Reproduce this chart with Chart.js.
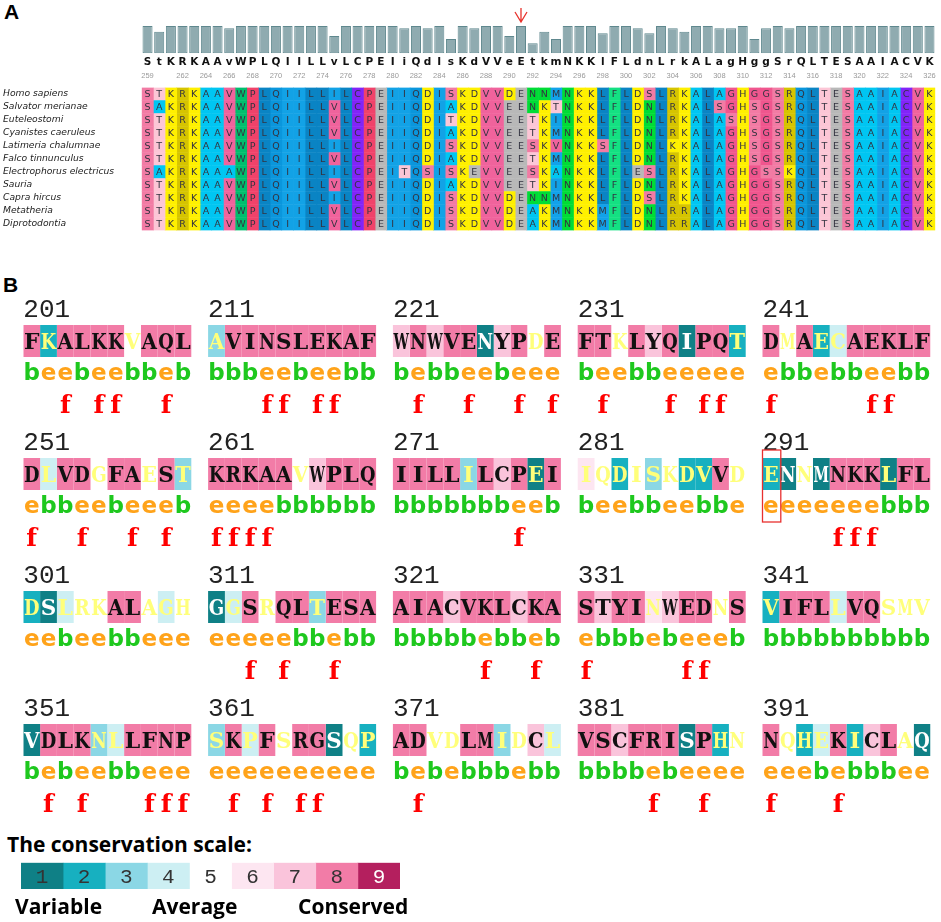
<!DOCTYPE html>
<html>
<head>
<meta charset="utf-8">
<script src="https://cdn.jsdelivr.net/npm/chart.js@4.4.1/dist/chart.umd.min.js"></script>
<style>
  html, body { margin: 0; padding: 0; background: #fff; }
  body { width: 941px; height: 922px; position: relative; overflow: hidden; }
  canvas { position: absolute; left: 0; }
  .panel { position: absolute; font-family: 'Liberation Sans', Arial, sans-serif; font-weight: bold; font-size: 21px; line-height: 21px; color: #000; }
  .scale { position: absolute; font-family: 'Open Sans', sans-serif; font-weight: bold; font-size: 21px; line-height: 21px; color: #000; white-space: nowrap; }
</style>
</head>
<body>
<div class="panel" style="left:4px;top:1px">A</div>
<canvas id="barsChart" width="941" height="83" style="top:0"></canvas>
<canvas id="alignChart" width="941" height="154" style="top:82px"></canvas>
<div class="panel" style="left:3px;top:274px">B</div>
<canvas id="consurfChart" width="941" height="545" style="top:270px"></canvas>
<div class="scale" style="left:7px;top:834px">The conservation scale:</div>
<canvas id="scaleChart" width="460" height="97" style="top:825px"></canvas>
<div class="scale" style="left:15px;top:896px">Variable</div>
<div class="scale" style="left:152px;top:896px">Average</div>
<div class="scale" style="left:298px;top:896px">Conserved</div>
<script>
// ---------- panel A data ----------
const positions = [259, 260, 261, 262, 263, 264, 265, 266, 267, 268, 269, 270, 271, 272, 273, 274, 275,
  276, 277, 278, 279, 280, 281, 282, 283, 284, 285, 286, 287, 288, 289, 290, 291, 292, 293, 294,
  295, 296, 297, 298, 299, 300, 301, 302, 303, 304, 305, 306, 307, 308, 309, 310, 311, 312, 313,
  314, 315, 316, 317, 318, 319, 320, 321, 322, 323, 324, 325, 326];
const numberedPositions = [259, 262, 264, 266, 268, 270, 272, 274, 276, 278, 280, 282, 284, 286, 288,
  290, 292, 294, 296, 298, 300, 302, 304, 306, 308, 310, 312, 314, 316, 318, 320, 322, 324, 326];
const consensus = 'StKRKAAvWPLQIILLvLCPEIiQdIsKdVVeEtkmNKKlFLdnLrkALagHggSrQLTESAAIACVK'.split('');
const conservation = [
  1, .79, 1, 1, 1, 1, 1, .92, 1, 1,
  1, 1, 1, 1, 1, 1, .63, 1, 1, 1,
  1, 1, .92, 1, .92, 1, .52, 1, .92, 1,
  1, .63, 1, .37, .79, .52, 1, 1, 1, .73,
  1, 1, .92, .73, 1, .92, .79, 1, 1, .92,
  .92, 1, .52, .92, 1, .92, 1, 1, 1, 1,
  1, 1, 1, 1, 1, 1, 1, 1];
const markedPosition = 291;

const species = ['Homo sapiens', 'Salvator merianae', 'Euteleostomi', 'Cyanistes caeruleus',
  'Latimeria chalumnae', 'Falco tinnunculus', 'Electrophorus electricus', 'Sauria',
  'Capra hircus', 'Metatheria', 'Diprotodontia'];
const alignment = [
  'STKRKAAVWPLQIILLILCPEIIQDISKDVVDENNMNKKLFLDSLRKALAGHGGSRQLTESAAIACVK',
  'SAKRKAAVWPLQIILLVLCPEIIQDIAKDVVEENKTNKKLFLDNLRKALSGHSGSRQLTESAAIACVK',
  'STKRKAAVWPLQIILLVLCPEIIQDITKDVVEETKINKKLFLDNLRKALASHSGSRQLTESAAIACVK',
  'STKRKAAVWPLQIILLVLCPEIIQDIAKDVVEETKMNKKLFLDNLRKALAGHSGSRQLTESAAIACVK',
  'STKRKAAVWPLQIILLILCPEIIQDISKDVVEESKVNKKSFLDNLKKALAGHSGSRQLTESAAIACVK',
  'STKRKAAVWPLQIILLVLCPEIIQDIAKDVVEETKMNKKLFLDNLRKALAGHSGSRQLTESAAIACVK',
  'SAKRKAAAWPLQIILLILCPEITQSISKEVVEESKANKKLFLESLRKALAGHGSSKQLTESAAIACVK',
  'STKRKAAVWPLQIILLVLCPEIIQDIAKDVVEETKINKKLFLDNLRKALAGHGGSRQLTESAAIACVK',
  'STKRKAAVWPLQIILLILCPEIIQDISKDVVDENNMNKKLFLDSLRKALAGHGGSRQLTESAAIACVK',
  'STKRKAAVWPLQIILLVLCPEIIQDISKDVVDEAKMNKKMFLDNLRRALAGHGGSRQLTESAAIACVK',
  'STKRKAAVWPLQIILLVLCPEIIQDISKDVVDEAKMNKKMFLDNLRRALAGHGGSRQLTESAAIACVK'];
const residueColors = {
  S: '#f27ba4', T: '#fcc6d6', K: '#fff000', R: '#d6c400', A: '#00c6f2', V: '#f0639c',
  W: '#00be6e', P: '#f0426a', L: '#0a84c4', Q: '#0a96dc', I: '#12a2e6', C: '#8224f8',
  E: '#b8b8b8', D: '#fff000', N: '#00dc36', M: '#12a2ea', F: '#14e082', G: '#f0568e', H: '#fff000'
};

// ---------- panel B data (ConSurf) ----------
const blockStarts = [201, 211, 221, 231, 241, 251, 261, 271, 281, 291,
  301, 311, 321, 331, 341, 351, 361, 371, 381, 391];
const residues = [
  'FKALKKVAQL', 'AVINSLEKAF', 'WNWVENYPDE', 'FTKLYQIPQT', 'DMAECAEKLF',
  'DLVDGFAEST', 'KRKAAVWPLQ', 'IILLILCPEI', 'IQDISKDVVD', 'ENNMNKKLFL',
  'DSLRKALAGH', 'GGSRQLTESA', 'AIACVKLCKA', 'STYINWEDNS', 'VIFLLVQSMV',
  'VDLKNLLFNP', 'SKPFSRGSQP', 'ADVDLMIDCL', 'VSCFRISPHN', 'NQHEKICLAQ'];
const grades = [
  '8288885888', '3888888888', '7878817858', '8858781882', '8582488888',
  '8488588583', '8888857888', '8888387818', '6525352285', '2151888188',
  '2145588545', '1485883888', '8887888788', '8788678858', '2888488555',
  '1888348888', '3848588152', '8855883574', '8878881825', '8524827851'];
const lowData = [
  '0100001000', '1000000000', '0000000010', '0010000001', '0101100000',
  '0100100101', '0000010000', '0000100010', '1111111101', '1010000100',
  '1011100111', '0101001000', '0000000000', '0000100010', '1000100111',
  '0000110000', '1010100011', '0011001101', '0000000011', '0111010010'];
const burial = [
  'beebeebbeb', 'bbbeebeebb', 'bebbeebeee', 'beebbeeeee', 'ebbebbeebb',
  'ebbeebeeeb', 'eeeebbbbbb', 'bbbbbbbeeb', 'beebbeebbe', 'eeeeeeebbb',
  'eebeebbeee', 'eeeeebbebb', 'bbbbbebbeb', 'ebbbebeeeb', 'bbbbbbbbbb',
  'bebeebbeee', 'eeeeeeeeee', 'bebebbbebb', 'bbbbebeeee', 'eeebebbbee'];
const functional = [
  '  f ff  f ', '   ff ff  ', ' f  f  f f', ' f   f ff ', 'f     ff  ',
  'f  f  f f ', 'ffff      ', '       f  ', '          ', '    fff   ',
  '          ', '  f f  f  ', '     f  f ', 'f     ff  ', '          ',
  ' f f   fff', ' f f ff   ', ' f        ', '    f  f  ', 'f   f     '];
const scaleGrades = [1, 2, 3, 4, 5, 6, 7, 8, 9];
const gradeColors = ['#0f8086', '#17b0c0', '#8bd7e5', '#cdeff3', '#ffffff',
  '#fde6f1', '#fac4db', '#f27ca7', '#b41f5e'];

const blocksPerRow = 5;
const blockLen = 10;
const slotLen = blockLen + 1;            // a blank slot between blocks
const slotsPerRow = blocksPerRow * slotLen - 1;
const blockRows = blockStarts.length / blocksPerRow;

Chart.defaults.animation = false;
Chart.defaults.plugins.legend.display = false;
Chart.defaults.plugins.tooltip.enabled = false;

// ---------- conservation bars ----------
const arrowPlugin = {
  id: 'arrow',
  afterDraw(chart) {
    const { ctx, chartArea } = chart;
    const x = chart.scales.x.getPixelForValue(positions.indexOf(markedPosition));
    const tip = chartArea.top - 4;
    ctx.save();
    ctx.strokeStyle = '#e8322c';
    ctx.lineWidth = 1.3;
    ctx.beginPath();
    ctx.moveTo(x, tip - 14);
    ctx.lineTo(x, tip);
    ctx.moveTo(x - 6, tip - 10);
    ctx.lineTo(x, tip);
    ctx.lineTo(x + 6, tip - 10);
    ctx.stroke();
    ctx.restore();
  }
};

new Chart(document.getElementById('barsChart'), {
  type: 'bar',
  data: {
    labels: consensus,
    datasets: [{
      data: conservation,
      backgroundColor: '#8fabb0',
      borderColor: '#5f888e',
      borderWidth: 1,
      borderSkipped: false,
      barPercentage: 0.86,
      categoryPercentage: 1
    }]
  },
  options: {
    responsive: false,
    layout: { padding: { top: 26, left: 141.7, right: 5.7, bottom: 0 } },
    scales: {
      y: { display: false, min: 0, max: 1 },
      x: {
        grid: { display: false, drawTicks: false },
        border: { display: false },
        ticks: {
          autoSkip: false, maxRotation: 0, padding: 2.4, color: '#111',
          font: { family: 'DejaVu Sans', weight: 'bold', size: 10.5 }
        },
        afterFit: s => { s.height = 15; }
      },
      x2: {
        type: 'category',
        labels: positions,
        position: 'bottom',
        offset: true,
        grid: { display: false, drawTicks: false },
        border: { display: false },
        ticks: {
          autoSkip: false, maxRotation: 0, padding: 3.5, color: '#9a9a9a',
          font: { family: 'Liberation Sans', size: 7.5 },
          callback: (v, i) => numberedPositions.includes(positions[i]) ? String(positions[i]) : ''
        },
        afterFit: s => { s.height = 14.7; }
      }
    }
  },
  plugins: [arrowPlugin]
});

// ---------- multiple alignment ----------
const alignLetters = {
  id: 'alignLetters',
  afterDatasetsDraw(chart) {
    const ctx = chart.ctx;
    ctx.save();
    ctx.font = '9.5px "DejaVu Sans"';
    ctx.textAlign = 'center';
    ctx.textBaseline = 'middle';
    ctx.fillStyle = '#333340';
    chart.data.datasets.forEach((ds, j) => {
      chart.getDatasetMeta(j).data.forEach((bar, i) => {
        ctx.fillText(alignment[i][j], (bar.x + bar.base) / 2, bar.y + 0.5);
      });
    });
    ctx.restore();
  }
};

new Chart(document.getElementById('alignChart'), {
  type: 'bar',
  data: {
    labels: species,
    datasets: positions.map((p, j) => ({
      data: species.map(() => 1),
      backgroundColor: alignment.map(seq => residueColors[seq[j]]),
      borderWidth: 0,
      barPercentage: 1,
      categoryPercentage: 1
    }))
  },
  options: {
    indexAxis: 'y',
    responsive: false,
    layout: { padding: { left: 3, right: 5.7, top: 0, bottom: 0 } },
    scales: {
      x: { stacked: true, display: false, min: 0, max: positions.length },
      y: {
        stacked: true,
        grid: { display: false, drawTicks: false },
        border: { display: false },
        ticks: {
          autoSkip: false, crossAlign: 'far', padding: 0, color: '#222',
          font: { family: 'DejaVu Sans', style: 'italic', size: 9.2 }
        },
        afterFit: s => { s.width = 138.7; }
      }
    }
  },
  plugins: [alignLetters]
});

// ---------- ConSurf blocks ----------
function slotBlock(row, slot) {
  const c = slot % slotLen;
  if (c === blockLen) return null;
  return { b: row * blocksPerRow + Math.floor(slot / slotLen), c };
}

const consurfText = {
  id: 'consurfText',
  afterDatasetsDraw(chart) {
    const ctx = chart.ctx;
    ctx.save();
    ctx.textAlign = 'center';
    ctx.textBaseline = 'alphabetic';
    for (let s = 0; s < slotsPerRow; s++) {
      chart.getDatasetMeta(s).data.forEach((bar, r) => {
        const cell = slotBlock(r, s);
        if (!cell) return;
        const { b, c } = cell;
        const cx = (bar.x + bar.base) / 2;
        const yc = bar.y;
        if (c === 0) {
          ctx.textAlign = 'left';
          ctx.font = '26px "Liberation Mono"';
          ctx.fillStyle = '#222';
          ctx.fillText(String(blockStarts[b]), bar.base, yc - 24.3);
          ctx.textAlign = 'center';
        }
        const g = Number(grades[b][c]);
        ctx.font = 'bold 23px "DejaVu Serif"';
        ctx.fillStyle = lowData[b][c] === '1' ? '#ffff7a' : (g === 1 ? '#ffffff' : '#111111');
        ctx.fillText(residues[b][c], cx, yc + 7.5, 15.5);
        const be = burial[b][c];
        ctx.font = 'bold 23px "DejaVu Sans"';
        ctx.fillStyle = be === 'b' ? '#1ec81e' : '#ffa31a';
        ctx.fillText(be, cx, yc + 39, 16.5);
        if (functional[b][c] === 'f') {
          ctx.font = 'bold 25px "DejaVu Serif"';
          ctx.fillStyle = '#ff0000';
          ctx.fillText('f', cx, yc + 72);
        }
      });
    }
    // box round the marked residue
    const idx = markedPosition - blockStarts[0];
    const b = Math.floor(idx / blockLen);
    const r = Math.floor(b / blocksPerRow);
    const s = (b % blocksPerRow) * slotLen + idx % blockLen;
    const bar = chart.getDatasetMeta(s).data[r];
    ctx.strokeStyle = '#e8302f';
    ctx.lineWidth = 1.3;
    ctx.strokeRect(bar.base, bar.y - 24, bar.x - bar.base + 1.5, 72);
    ctx.restore();
  }
};

const rowLabels = [];
for (let r = 0; r < blockRows; r++) rowLabels.push(String(blockStarts[r * blocksPerRow]));
const consurfSets = [];
for (let s = 0; s < slotsPerRow; s++) {
  consurfSets.push({
    data: rowLabels.map(() => 1),
    backgroundColor: rowLabels.map((l, r) => {
      const cell = slotBlock(r, s);
      return cell ? gradeColors[Number(grades[cell.b][cell.c]) - 1] : 'rgba(0,0,0,0)';
    }),
    borderWidth: 0,
    barPercentage: 0.2406,
    categoryPercentage: 1
  });
}

new Chart(document.getElementById('consurfChart'), {
  type: 'bar',
  data: { labels: rowLabels, datasets: consurfSets },
  options: {
    indexAxis: 'y',
    responsive: false,
    layout: { padding: { left: 23.3, right: 10.5, top: 4.5, bottom: 8.5 } },
    scales: {
      x: { stacked: true, display: false, min: 0, max: slotsPerRow },
      y: { stacked: true, display: false }
    }
  },
  plugins: [consurfText]
});

// ---------- conservation scale ----------
const scaleNumbers = {
  id: 'scaleNumbers',
  afterDatasetsDraw(chart) {
    const ctx = chart.ctx;
    ctx.save();
    ctx.font = '21px "Liberation Mono"';
    ctx.textAlign = 'center';
    ctx.textBaseline = 'alphabetic';
    scaleGrades.forEach((g, i) => {
      const bar = chart.getDatasetMeta(i).data[0];
      ctx.fillStyle = g === 9 ? '#ffffff' : '#333333';
      ctx.fillText(String(g), (bar.x + bar.base) / 2, bar.y + 7);
    });
    ctx.restore();
  }
};

new Chart(document.getElementById('scaleChart'), {
  type: 'bar',
  data: {
    labels: ['grade'],
    datasets: scaleGrades.map(g => ({
      data: [1],
      backgroundColor: gradeColors[g - 1],
      borderWidth: 0,
      barPercentage: 1,
      categoryPercentage: 1
    }))
  },
  options: {
    indexAxis: 'y',
    responsive: false,
    layout: { padding: { left: 21, right: 60, top: 37.7, bottom: 33 } },
    scales: {
      x: { stacked: true, display: false, min: 0, max: scaleGrades.length },
      y: { stacked: true, display: false }
    }
  },
  plugins: [scaleNumbers]
});
</script>
</body>
</html>
